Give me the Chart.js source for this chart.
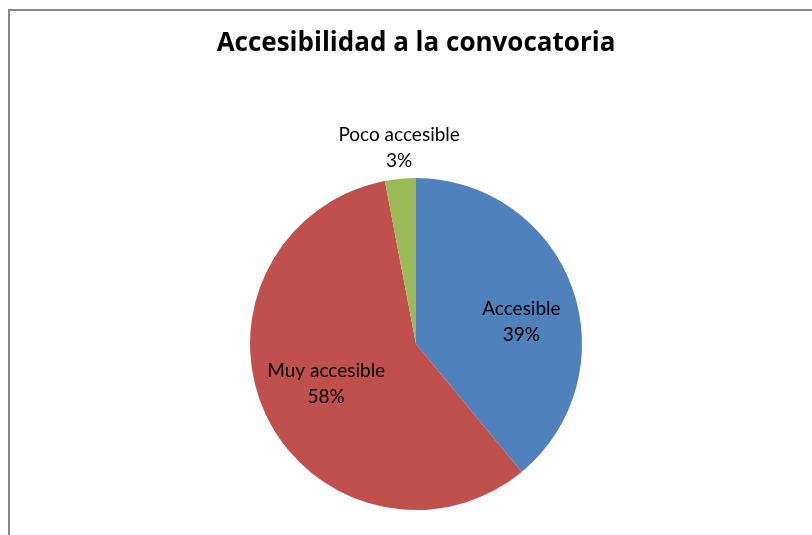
<!DOCTYPE html>
<html>
<head>
<meta charset="utf-8">
<script src="https://cdn.jsdelivr.net/npm/chart.js@4/dist/chart.umd.min.js"></script>
<style>
    body { margin: 0; background: #fff; }
    #wrap { position: relative; width: 812px; height: 535px; overflow: hidden; }
    #frame {
        position: absolute; left: 8px; top: 9px; width: 900px; height: 600px;
        border-left: 2px solid #878787; border-top: 2px solid #878787;
    }
    canvas { position: absolute; left: 0; top: 0; }
</style>
</head>
<body>
<div id="wrap">
    <div id="frame"></div>
    <canvas id="pie" width="812" height="535"></canvas>
</div>
<script>
const chartTitle = 'Accesibilidad a la convocatoria';
const categories = ['Accesible', 'Muy accesible', 'Poco accesible'];
const percents = [39, 58, 3];
const sliceColors = ['#4F81BD', '#C0504D', '#9BBB59'];

// where each label sits: fraction of radius, and a small angle nudge (deg)
const labelRadius = [0.65, 0.59, 1.19];
const labelNudge = [7.4, 1.7, 0.5];

const labelPlugin = {
    id: 'sliceLabels',
    afterDatasetsDraw(chart) {
        const ctx = chart.ctx;
        const arcs = chart.getDatasetMeta(0).data;
        ctx.save();
        ctx.font = '19px Lato';
        ctx.fillStyle = '#000';
        ctx.textAlign = 'center';
        ctx.textBaseline = 'alphabetic';
        arcs.forEach((arc, i) => {
            const p = arc.getProps(['x', 'y', 'startAngle', 'endAngle', 'outerRadius'], true);
            const mid = (p.startAngle + p.endAngle) / 2 + labelNudge[i] * Math.PI / 180;
            const r = p.outerRadius * labelRadius[i];
            const cx = p.x + Math.cos(mid) * r;
            const cy = p.y + Math.sin(mid) * r;
            ctx.fillText(categories[i], cx, cy - 6);
            ctx.fillText(percents[i] + '%', cx, cy + 20);
        });
        ctx.restore();
    }
};

new Chart(document.getElementById('pie').getContext('2d'), {
    type: 'pie',
    data: {
        labels: categories,
        datasets: [{
            data: percents,
            backgroundColor: sliceColors,
            borderWidth: 0
        }]
    },
    options: {
        responsive: false,
        animation: false,
        layout: { padding: { left: 70, right: 50, top: 0, bottom: 25 } },
        plugins: {
            legend: { display: false },
            tooltip: { enabled: false },
            title: {
                display: true,
                text: chartTitle,
                color: '#000',
                font: { family: 'Open Sans', size: 26, weight: 'bold', lineHeight: 1.2 },
                padding: { top: 28, bottom: 118.8 }
            }
        }
    },
    plugins: [labelPlugin]
});
</script>
</body>
</html>
